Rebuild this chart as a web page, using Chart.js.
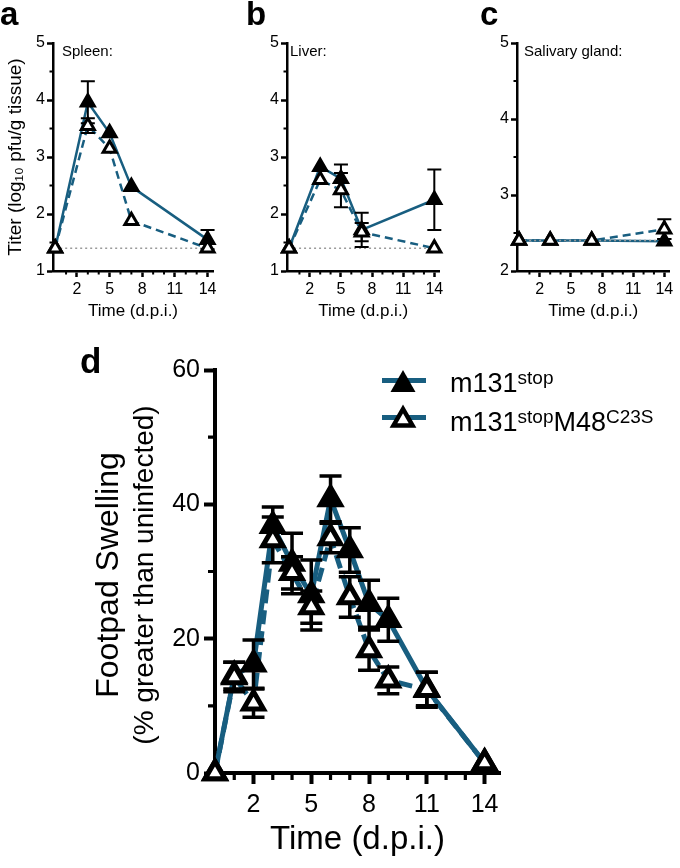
<!DOCTYPE html>
<html>
<head>
<meta charset="utf-8">
<script src="https://cdn.jsdelivr.net/npm/chart.js@4.4.0/dist/chart.umd.min.js"></script>
<style>
  body { margin: 0; background: #fff; font-family: "Liberation Sans", Arial, sans-serif; }
  #page { position: relative; width: 680px; height: 868px; overflow: hidden; background: #fff; }
  canvas { position: absolute; }
  .txt { position: absolute; white-space: nowrap; color: #000; }
  .letter { font-weight: bold; }
  .rot { transform: translate(-50%, -50%) rotate(-90deg); }
  .sup { position: relative; font-size: 19px; top: -0.42em; }
</style>
</head>
<body>
<div id="page">
  <canvas id="spleen" width="225" height="330" style="left:0;top:0"></canvas>
  <canvas id="liver" width="225" height="330" style="left:225px;top:0"></canvas>
  <canvas id="salivary" width="230" height="330" style="left:450px;top:0"></canvas>
  <canvas id="footpad" width="680" height="538" style="left:0;top:330px"></canvas>

  <div class="txt letter" style="left:0;top:-3px;font-size:33px;line-height:33px">a</div>
  <div class="txt letter" style="left:246px;top:-3px;font-size:33px;line-height:33px">b</div>
  <div class="txt letter" style="left:480px;top:-3px;font-size:33px;line-height:33px">c</div>
  <div class="txt letter" style="left:80px;top:343px;font-size:35px;line-height:35px">d</div>

  <div class="txt" style="left:62px;top:43px;font-size:15px;line-height:15px">Spleen:</div>
  <div class="txt" style="left:290px;top:43px;font-size:15px;line-height:15px">Liver:</div>
  <div class="txt" style="left:524px;top:43px;font-size:15px;line-height:15px">Salivary gland:</div>

  <div class="txt rot" style="left:107px;top:575px;font-size:32px;line-height:32px">Footpad Swelling</div>
  <div class="txt rot" style="left:144px;top:575px;font-size:28px;line-height:28px">(% greater than uninfected)</div>

  <svg style="position:absolute;left:382px;top:367px" width="44" height="26">
    <rect x="0" y="11" width="44" height="5" fill="#185e80"></rect>
    <polygon points="21,3 8.5,25 33.5,25" fill="#000"></polygon>
  </svg>
  <svg style="position:absolute;left:382px;top:402px" width="44" height="28">
    <rect x="0" y="13" width="44" height="5" fill="#185e80"></rect>
    <polygon points="21,7 11.5,23.5 30.5,23.5" fill="#fff" stroke="#000" stroke-width="4.5" stroke-linejoin="miter"></polygon>
  </svg>
  <div class="txt" style="left:450px;top:370px;font-size:27px;line-height:27px">m131<span class="sup">stop</span></div>
  <div class="txt" style="left:450px;top:409px;font-size:27px;line-height:27px">m131<span class="sup">stop</span>M48<span class="sup">C23S</span></div>
</div>
<script>
const BLUE = "#185e80";
const FONT = "'Liberation Sans', Arial, sans-serif";
Chart.defaults.font.family = FONT;
Chart.defaults.color = "#000";

// days post infection
const organDays = [0, 3, 5, 7, 14];
const salivaryDays = [0, 3, 7, 14];
const footDays = [0, 1, 2, 3, 4, 5, 6, 7, 8, 9, 11, 14];
const dayTicks = [2, 5, 8, 11, 14];
const dayMinor = [1, 3, 4, 6, 7, 9, 10, 12, 13];

// titers, log10 pfu/g tissue (mean, SEM)
const spleenStop = [1.4, 3.96, 3.42, 2.48, 1.55];
const spleenStopErr = [0, 0.37, 0, 0, 0.17];
const spleenC23S = [1.4, 3.55, 3.15, 1.88, 1.4];
const spleenC23SErr = [0, 0.13, 0, 0, 0];

const liverStop = [1.4, 2.83, 2.62, 1.72, 2.25];
const liverStopErr = [0, 0, 0.25, 0.3, 0.53];
const liverC23S = [1.4, 2.6, 2.42, 1.68, 1.4];
const liverC23SErr = [0, 0, 0.3, 0.16, 0];

const salivaryStop = [2.4, 2.4, 2.4, 2.39];
const salivaryStopErr = [0, 0, 0, 0.03];
const salivaryC23S = [2.4, 2.4, 2.4, 2.55];
const salivaryC23SErr = [0, 0, 0, 0.13];

const organLimit = 1.4;
const salivaryLimit = 2.4;

// footpad swelling, % greater than uninfected
const footStop = [0, 14.5, 16.2, 36.8, 31.2, 26.5, 40.8, 33.2, 25.2, 22.8, 12.5, 1.5];
const footStopErr = [0, 2, 3.6, 2.8, 4.5, 5.2, 3.4, 3.3, 3.5, 3.2, 2.5, 0];
const footC23S = [0, 14.3, 10.4, 34.7, 29.8, 24.7, 35, 26.2, 18.3, 13.8, 12.4, 1.5];
const footC23SErr = [0, 2.2, 2.1, 3.4, 2.4, 2.4, 2.2, 3, 3, 2, 2.6, 0];

const xy = (xs, ys) => xs.map((x, i) => ({ x: x, y: ys[i] }));

// SEM bars, painted after the lines and before the triangles
const errorBars = {
  id: "errorBars",
  beforeDatasetDraw(chart, args, opts) {
    if (args.index !== 1) return;
    const ctx = chart.ctx;
    const xs = chart.scales.x;
    const ys = chart.scales.y;
    const c = opts.cap / 2;
    ctx.save();
    ctx.strokeStyle = "#000";
    ctx.lineWidth = opts.width;
    chart.data.datasets.forEach((ds) => {
      if (!ds.errors) return;
      ds.data.forEach((p, i) => {
        const e = ds.errors[i];
        if (!e) return;
        const px = xs.getPixelForValue(p.x);
        const top = ys.getPixelForValue(p.y + e);
        const bot = ys.getPixelForValue(p.y - e);
        ctx.beginPath();
        ctx.moveTo(px, top);
        ctx.lineTo(px, bot);
        ctx.moveTo(px - c, top);
        ctx.lineTo(px + c, top);
        ctx.moveTo(px - c, bot);
        ctx.lineTo(px + c, bot);
        ctx.stroke();
      });
    });
    ctx.restore();
  },
};

// short unlabeled ticks
const minorTicks = {
  id: "minorTicks",
  beforeDatasetsDraw(chart, args, opts) {
    const ctx = chart.ctx;
    const area = chart.chartArea;
    const xs = chart.scales.x;
    const ys = chart.scales.y;
    ctx.save();
    ctx.strokeStyle = "#000";
    ctx.lineWidth = opts.width;
    ctx.beginPath();
    opts.xValues.forEach((v) => {
      const px = xs.getPixelForValue(v);
      ctx.moveTo(px, area.bottom);
      ctx.lineTo(px, area.bottom + opts.length);
    });
    opts.yValues.forEach((v) => {
      const py = ys.getPixelForValue(v);
      ctx.moveTo(area.left, py);
      ctx.lineTo(area.left - opts.length, py);
    });
    ctx.stroke();
    ctx.restore();
  },
};

function buildSets(days, stop, stopErr, c23s, c23sErr, limit, s) {
  const sets = [
    {
      data: xy(days, c23s), errors: c23sErr, showLine: false, clip: false,
      pointStyle: "triangle", pointRadius: s.r, pointBackgroundColor: "#fff",
      pointBorderColor: "#000", pointBorderWidth: s.bw,
    },
    {
      data: xy(days, stop), errors: stopErr, showLine: false, clip: false,
      pointStyle: "triangle", pointRadius: s.r, pointBackgroundColor: "#000",
      pointBorderColor: "#000", pointBorderWidth: s.bw,
    },
  ];
  if (limit !== null) {
    const ends = [days[0], days[days.length - 1]];
    sets.push({
      data: xy(ends, [limit, limit]), showLine: true, pointRadius: 0,
      borderColor: "#9a9a9a", borderWidth: 1.5, borderDash: [2, 3],
    });
  }
  sets.push({
    data: xy(days, c23s), showLine: true, pointRadius: 0, clip: false,
    borderColor: BLUE, borderWidth: s.lw, borderDash: s.dash,
  });
  sets.push({
    data: xy(days, stop), showLine: true, pointRadius: 0, clip: false,
    borderColor: BLUE, borderWidth: s.lw,
  });
  return sets;
}

function makeChart(id, datasets, p) {
  return new Chart(document.getElementById(id), {
    type: "scatter",
    data: { datasets: datasets },
    plugins: [errorBars, minorTicks],
    options: {
      responsive: false,
      animation: false,
      events: [],
      layout: { padding: { left: 0, top: p.padTop, right: p.padRight, bottom: 0 } },
      plugins: {
        legend: { display: false },
        tooltip: { enabled: false },
        errorBars: { width: p.errWidth, cap: p.cap },
        minorTicks: { xValues: dayMinor, yValues: p.yMinor, length: p.minorLen, width: p.axisWidth * 0.8 },
      },
      scales: {
        x: {
          type: "linear",
          min: p.xMin,
          max: p.xMax,
          afterBuildTicks: (s) => { s.ticks = dayTicks.map((v) => ({ value: v })); },
          afterFit: (s) => { s.height = p.xHeight; },
          grid: { drawOnChartArea: false, drawTicks: true, tickLength: p.tickLen, tickWidth: p.axisWidth, tickColor: "#000" },
          border: { display: true, color: "#000", width: p.axisWidth },
          ticks: { color: "#000", font: { size: p.tickSize }, padding: p.xTickPad, maxRotation: 0, autoSkip: false },
          title: {
            display: true, text: "Time (d.p.i.)", color: "#000",
            font: { size: p.xTitleSize }, padding: { top: 0, bottom: p.xTitlePad },
          },
        },
        y: {
          type: "linear",
          min: p.yMin,
          max: p.yMax,
          afterBuildTicks: (s) => { s.ticks = p.yTicks.map((v) => ({ value: v })); },
          afterFit: (s) => { s.width = p.yWidth; },
          grid: { drawOnChartArea: false, drawTicks: true, tickLength: p.tickLen, tickWidth: p.axisWidth, tickColor: "#000" },
          border: { display: true, color: "#000", width: p.axisWidth },
          ticks: { color: "#000", font: { size: p.tickSize }, padding: p.yTickPad },
          title: {
            display: !!p.yTitle, text: p.yTitle || "", color: "#000",
            font: { size: 19 }, padding: { top: 4, bottom: 0 },
          },
        },
      },
    },
  });
}

const small = { r: 7.5, bw: 3, lw: 2.5, dash: [8, 5] };
const organBase = {
  padTop: 43, xHeight: 59, xMin: -0.2, xMax: 14.5,
  yTicks: [1, 2, 3, 4, 5], yMin: 1, yMax: 5, yMinor: [1.5, 2.5, 3.5, 4.5],
  tickLen: 6, minorLen: 3.5, axisWidth: 2.5, tickSize: 16, xTickPad: 3, yTickPad: 2,
  xTitleSize: 17, xTitlePad: 8, errWidth: 2, cap: 14,
};

makeChart("spleen",
  buildSets(organDays, spleenStop, spleenStopErr, spleenC23S, spleenC23SErr, organLimit, small),
  Object.assign({}, organBase, { padRight: 12, yWidth: 53, yTitle: "Titer (log\u2081\u2080 pfu/g tissue)" }));

makeChart("liver",
  buildSets(organDays, liverStop, liverStopErr, liverC23S, liverC23SErr, organLimit, small),
  Object.assign({}, organBase, { padRight: 8, yWidth: 62 }));

makeChart("salivary",
  buildSets(salivaryDays, salivaryStop, salivaryStopErr, salivaryC23S, salivaryC23SErr, salivaryLimit, small),
  Object.assign({}, organBase, {
    padRight: 5, yWidth: 67, yTicks: [2, 3, 4, 5], yMin: 2, yMax: 5, yMinor: [2.5, 3.5, 4.5],
  }));

makeChart("footpad",
  buildSets(footDays, footStop, footStopErr, footC23S, footC23SErr, null, { r: 11.5, bw: 5, lw: 5, dash: [14, 7] }),
  {
    padTop: 40, padRight: 180, xHeight: 95, yWidth: 215, xMin: 0, xMax: 14.8,
    yTicks: [0, 20, 40, 60], yMin: 0, yMax: 60, yMinor: [10, 30, 50],
    tickLen: 11, minorLen: 7, axisWidth: 4, tickSize: 25, xTickPad: 6, yTickPad: 4,
    xTitleSize: 33, xTitlePad: 8, errWidth: 3.5, cap: 22,
  });
</script>
</body>
</html>
